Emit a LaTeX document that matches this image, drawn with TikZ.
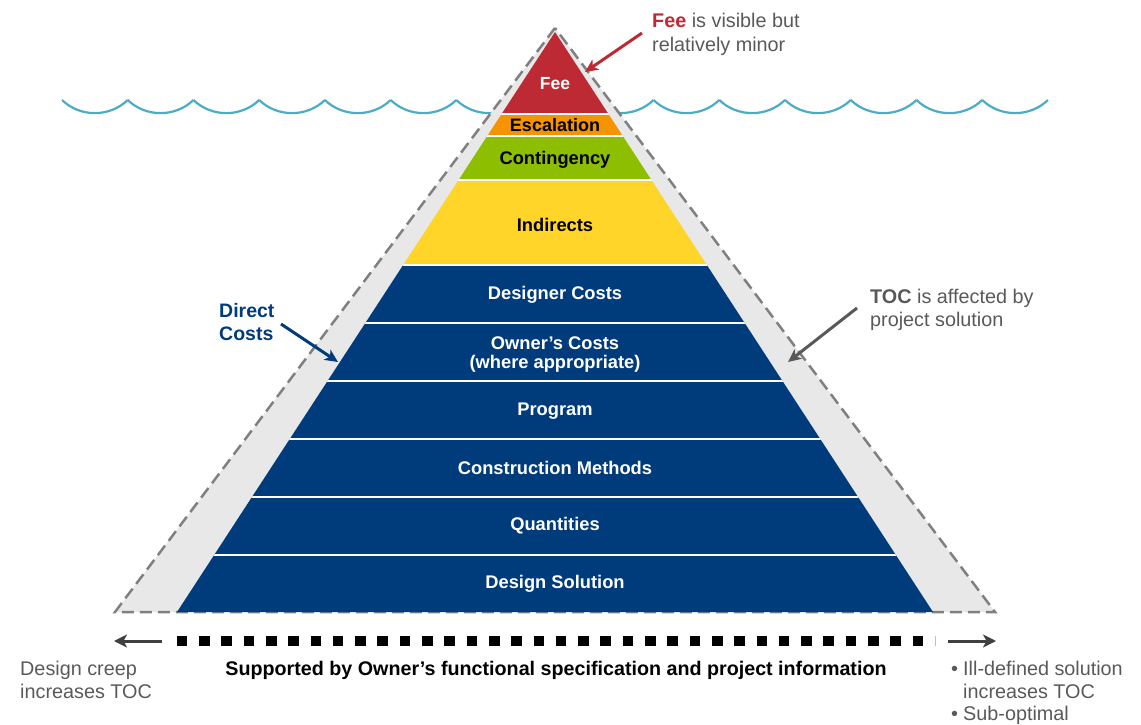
\documentclass[tikz,border=0pt]{standalone}
\usepackage{fontspec}
\setmainfont{Liberation Sans}
\usetikzlibrary{arrows.meta,calc}
\definecolor{feered}{HTML}{BE2A33}
\definecolor{escorange}{HTML}{F59300}
\definecolor{contgreen}{HTML}{8DBF00}
\definecolor{indyellow}{HTML}{FFD52A}
\definecolor{costblue}{HTML}{003B7B}
\definecolor{bandgray}{HTML}{E8E8E8}
\definecolor{dashgray}{HTML}{808080}
\definecolor{wavecol}{HTML}{4BACC6}
\definecolor{notegray}{HTML}{595959}
\definecolor{arrowdark}{HTML}{404040}
\begin{document}
\begin{tikzpicture}[x=1pt,y=-1pt,
  layerlbl/.style={font=\fontsize{18.3}{21}\selectfont\bfseries, text=white, inner sep=0pt},
  darklbl/.style={font=\fontsize{18.3}{21}\selectfont\bfseries, text=black, inner sep=0pt},
  notetxt/.style={font=\fontsize{19.8}{23}\selectfont, text=notegray, inner sep=0pt, anchor=base west},
  wave/.style={draw=wavecol, line width=2.2pt},
  callout/.style={line width=3pt, -{Stealth[length=13pt,width=12pt,inset=3.5pt]}},
  sidearrow/.style={draw=arrowdark, line width=3pt, -{Stealth[length=13pt,width=13pt,inset=3.5pt]}}]
\useasboundingbox (0,0) rectangle (1141,725);

% waves
\foreach \i in {0,...,14}{
  \pgfmathsetmacro\xa{62+65.73*\i}
  \draw[wave] (\xa,100) .. controls (\xa+18,117.5) and (\xa+47.73,117.5) .. (\xa+65.73,100);
}

% outer band
\coordinate (OA) at (555,28);
\coordinate (OL) at (115,612);
\coordinate (OR) at (995,612);
\filldraw[fill=bandgray, draw=dashgray, line width=2.5pt, dash pattern=on 12pt off 6pt]
  (OA) -- (OL) -- (OR) -- cycle;

% inner pyramid
\coordinate (IA) at (555,32);
\coordinate (IL) at (177,612);
\coordinate (IR) at (933,612);
\begin{scope}
  \clip (IA) -- (IL) -- (IR) -- cycle;
  \fill[feered] (100,20) rectangle (1000,114);
  \fill[escorange] (100,114) rectangle (1000,136);
  \fill[contgreen] (100,136) rectangle (1000,180);
  \fill[indyellow] (100,180) rectangle (1000,265);
  \fill[costblue] (100,265) rectangle (1000,620);
  \foreach \yy in {114,136,180,265,323,381,439,497,555}
    \draw[white, line width=2pt] (100,\yy) -- (1000,\yy);
\end{scope}

% layer labels
\node[layerlbl, font=\fontsize{17.5}{21}\selectfont\bfseries] (fee) at (555,83.5) {Fee};
\node[darklbl, font=\fontsize{18}{21}\selectfont\bfseries] (esc) at (555,125) {Escalation};
\node[darklbl] (cont) at (555,159.5) {Contingency};
\node[darklbl] (ind) at (555,224.5) {Indirects};
\node[layerlbl] (des) at (555,294.5) {Designer Costs};
\node[layerlbl] (own1) at (555,343) {Owner’s Costs};
\node[layerlbl] (own2) at (555,364) {(where appropriate)};
\node[layerlbl] (prog) at (555,411.5) {Program};
\node[layerlbl] (cons) at (555,467.5) {Construction Methods};
\node[layerlbl] (quant) at (555,525.5) {Quantities};
\node[layerlbl] (dsol) at (555,583.5) {Design Solution};

% Fee note
\node[notetxt] (feeA) at (652,28) {\textcolor{feered}{\bfseries Fee} is visible but};
\node[notetxt] (feeB) at (652,52) {relatively minor};
\coordinate (feetail) at (642,33);
\coordinate (feehead) at (585,72);
\draw[callout, draw=feered, color=feered] (feetail) -- (feehead);

% Direct Costs note
\node[notetxt, text=costblue, font=\fontsize{19.5}{23}\selectfont\bfseries] (dcA) at (219,317) {Direct};
\node[notetxt, text=costblue, font=\fontsize{19.5}{23}\selectfont\bfseries] (dcB) at (219,340) {Costs};
\coordinate (dctail) at (281,324);
\coordinate (dchead) at (338,362);
\draw[callout, draw=costblue, color=costblue] (dctail) -- (dchead);

% TOC note
\node[notetxt] (tocA) at (870,303) {{\bfseries TOC} is affected by};
\node[notetxt] (tocB) at (870,326) {project solution};
\coordinate (toctail) at (857,308);
\coordinate (tochead) at (788,362);
\draw[callout, draw=notegray, color=notegray] (toctail) -- (tochead);

% bottom
\coordinate (dotL) at (176.7,641);
\coordinate (dotR) at (924,641);
\draw[black, line width=10.6pt, dash pattern=on 10.6pt off 11.7pt] (dotL) -- (dotR);
\draw[black!25, line width=0.8pt] (935.5,636) -- (935.5,646);

\coordinate (laS) at (162,641);
\coordinate (laE) at (114,641);
\draw[sidearrow] (laS) -- (laE);
\coordinate (raS) at (948,641);
\coordinate (raE) at (996,641);
\draw[sidearrow] (raS) -- (raE);

\node[font=\fontsize{19.7}{23}\selectfont\bfseries, text=black, inner sep=0pt, anchor=base] (support) at (556,675)
  {Supported by Owner’s functional specification and project information};

\node[notetxt] (creepA) at (20,675) {Design creep};
\node[notetxt] (creepB) at (20,698) {increases TOC};

\node[notetxt] (bul1) at (951,675) {•};
\node[notetxt] (illA) at (963,675) {Ill-defined solution};
\node[notetxt] (illB) at (963,698) {increases TOC};
\node[notetxt] (bul2) at (951,720) {•};
\node[notetxt] (sub) at (963,720) {Sub-optimal};
\end{tikzpicture}
\end{document}
